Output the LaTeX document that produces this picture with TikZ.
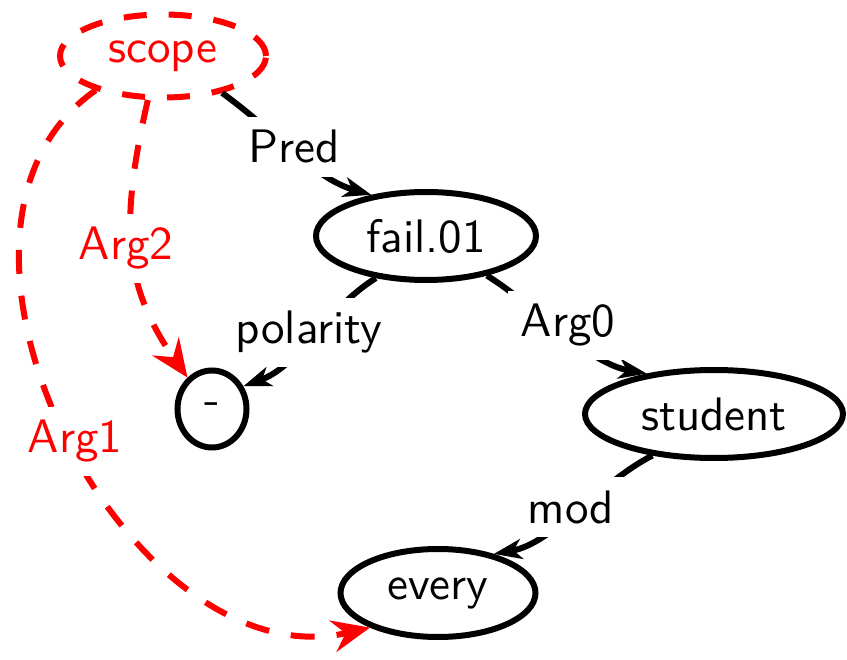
\documentclass[tikz,border=0pt]{standalone}
\usepackage{fontspec}
\newfontfamily\lmsten{lmsans10-regular.otf}
\usetikzlibrary{shapes.geometric,arrows.meta}
\begin{document}
\begin{tikzpicture}[x=1pt,y=1pt,
  every node/.style={font=\lmsten\fontsize{47}{50}\selectfont},
  amr/.style={draw, ellipse, line width=6pt, inner sep=0pt},
  scopenode/.style={amr, red, text=red, dash pattern=on 23pt off 22pt},
  edgeblk/.style={line width=6pt, -{Stealth[length=28pt,width=20pt,inset=8pt]}},
  edgered/.style={red, line width=6pt, dash pattern=on 24pt off 22pt, -{Stealth[length=38pt,width=32pt,inset=13pt]}},
  lbl/.style={fill=white, inner sep=13pt, anchor=base},
  rlbl/.style={lbl, text=red}]
\useasboundingbox (0,0) rectangle (847,-660);
% nodes
\node[scopenode, minimum width=206pt, minimum height=83pt] (scope) at (163,-56) {scope};
\node[amr, minimum width=220pt, minimum height=88pt] (fail) at (426,-236) {fail.01};
\node[amr, minimum width=69pt, minimum height=77pt] (minus) at (212,-409) {-};
\node[amr, minimum width=258pt, minimum height=88pt] (student) at (714,-414) {student};
\node[amr, minimum width=195pt, minimum height=88pt] (every) at (438,-593) {every};
% black edges
\draw[edgeblk] (scope.-32) .. controls +(-36:70) and +(164:60) .. (fail.143);
\draw[edgeblk] (fail.220) .. controls +(212:60) and +(20:60) .. (minus.36);
\draw[edgeblk] (fail.-33) .. controls +(-32:60) and +(170:60) .. (student.149);
\draw[edgeblk] (student.214) .. controls +(207:60) and +(10:60) .. (every.35);
% red edges
\draw[edgered] (scope.251) .. controls +(-103:130) and +(125:110) .. (minus.128);
\draw[edgered] (scope.207) .. controls +(215:245) and +(193:250) .. (every.207);
% labels
\node[lbl] (lpred) at (294,-163) {Pred};
\node[lbl] (lpol) at (309,-344) {polarity};
\node[lbl] (larg0) at (568,-337) {Arg0};
\node[lbl] (lmod) at (571,-523) {mod};
\node[rlbl] (larg2) at (126,-260) {Arg2};
\node[rlbl] (larg1) at (75,-453) {Arg1};
\end{tikzpicture}
\end{document}
